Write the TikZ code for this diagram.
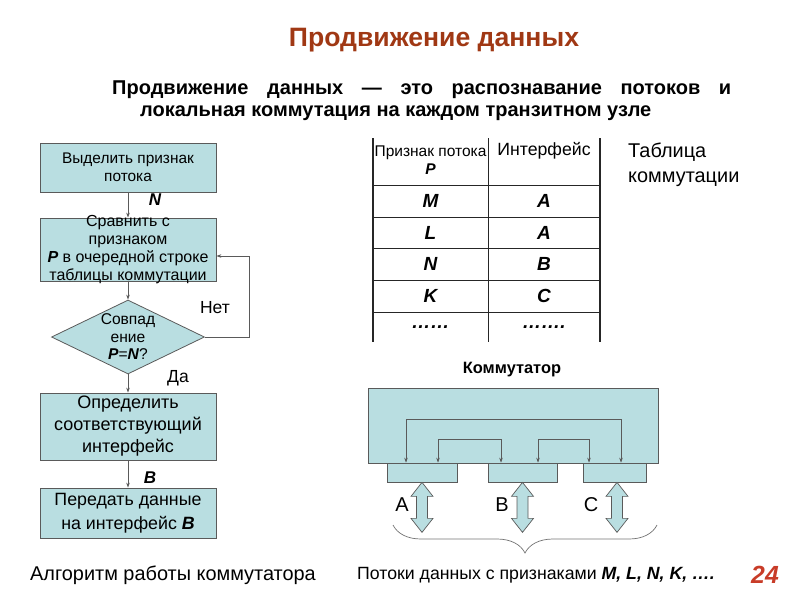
\documentclass[tikz,border=0pt]{standalone}
\usepackage{fontspec}
\setmainfont{Liberation Sans}
\usetikzlibrary{shapes.geometric,decorations.pathreplacing,arrows.meta,calc}
\definecolor{boxfill}{RGB}{185,222,225}
\definecolor{edgec}{RGB}{90,90,90}
\definecolor{titlec}{RGB}{160,56,20}
\definecolor{pagenum}{RGB}{200,60,40}
\begin{document}
\begin{tikzpicture}[x=1pt,y=-1pt,
  fbox/.style={draw=edgec,fill=boxfill,line width=0.8pt,minimum width=176pt,align=center,inner sep=0pt},
  conn/.style={draw=edgec,line width=0.6pt,-{Stealth[length=5pt,width=3.5pt]}},
  dconn/.style={draw=edgec,line width=0.6pt,{Stealth[length=5pt,width=3.5pt]}-{Stealth[length=5pt,width=3.5pt]}},
  lbl/.style={font=\bfseries\itshape\fontsize{17}{19}\selectfont},
  plain/.style={font=\fontsize{17.5}{19}\selectfont},
  tline/.style={draw=black!85,line width=0.6pt},
  tcell/.style={font=\bfseries\itshape\fontsize{19}{21}\selectfont},
  port/.style={draw=edgec,fill=boxfill,line width=0.7pt,inner sep=0pt},
  dblarr/.pic={\draw[draw=edgec,fill=boxfill,line width=0.7pt]
     (0,0) -- (11,14) -- (5.5,14) -- (5.5,36) -- (11,36) -- (0,50) -- (-11,36) -- (-5.5,36) -- (-5.5,14) -- (-11,14) -- cycle;}
]
\useasboundingbox (0,0) rectangle (800,600);

% title
\node[font=\bfseries\fontsize{26.6}{30}\selectfont, text=titlec] (title) at (434,40) {Продвижение данных};
\node[anchor=west, inner sep=0pt, font=\bfseries\fontsize{20}{24}\selectfont] (sub1) at (112,90)
  {\makebox[619pt][s]{Продвижение данных — это распознавание потоков и}};
\node[anchor=west, inner sep=0pt, font=\bfseries\fontsize{20}{24}\selectfont] (sub2) at (140,113)
  {локальная коммутация на каждом транзитном узле};

% flowchart
\node[fbox, minimum height=49pt, font=\fontsize{15.4}{18}\selectfont] (b1) at (128,167.5) {Выделить признак\\потока};
\node[fbox, minimum height=63pt, font=\fontsize{16}{18}\selectfont] (b2) at (128,249.5)
  {};
\node[align=center, inner sep=0pt, font=\fontsize{16}{18}\selectfont] (b2t) at (b2.center)
  {Сравнить с\\признаком\\\textbf{\textit{P}} в очередной строке\\таблицы коммутации};
\node[diamond, draw=edgec, fill=boxfill, line width=0.8pt, minimum width=153pt, minimum height=74pt, inner sep=0pt] (dia) at (128,337) {};
\node[align=center, inner sep=0pt, font=\fontsize{15.6}{17.5}\selectfont] (diat) at (dia.center) {Совпад\\ение\\\textbf{\textit{P}}=\textbf{\textit{N}}?};
\node[fbox, minimum height=67pt, font=\fontsize{18}{22}\selectfont] (b3) at (128,426.5) {Определить\\соответствующий\\интерфейс};
\node[fbox, minimum height=50pt, font=\fontsize{17.8}{24}\selectfont] (b4) at (128,513) {Передать данные\\на интерфейс \textbf{\textit{B}}};

\draw[conn] (b1.south) -- (b2.north);
\draw[conn] (b2.south) -- (dia.north);
\draw[conn] (dia.south) -- (b3.north);
\draw[conn] (b3.south) -- (b4.north);
\coordinate (lp) at (249,256);
\draw[conn] (dia.east) -| (lp) -- (b2.east |- lp);

\node[lbl] (lN) at (155,200) {N};
\node[plain] (lno) at (215,308) {Нет};
\node[plain] (lyes) at (178,378) {Да};
\node[lbl] (lB) at (150,478) {B};

\node[anchor=west, inner sep=0pt, font=\fontsize{19.9}{22}\selectfont] (cap1) at (30,575) {Алгоритм работы коммутатора};

% table
\draw[tline] (488,138) -- (488,342);
\draw[draw=black!85, line width=1.6pt] (373,138) -- (373,342);
\draw[draw=black!85, line width=1.6pt] (600,138) -- (600,342);
\foreach \yy in {185,217,248,280,312} { \draw[tline] (373,\yy) -- (600,\yy); }
\node[align=center, inner sep=0pt, font=\fontsize{15.5}{18}\selectfont] (h1) at (430.5,160) {Признак потока\\\textbf{\textit{P}}};
\node[inner sep=0pt, font=\fontsize{17.7}{20}\selectfont] (h2) at (544,151) {Интерфейс};
\node[tcell] (r1a) at (430.5,201) {M};  \node[tcell] (r1b) at (544,201) {A};
\node[tcell] (r2a) at (430.5,232.5) {L}; \node[tcell] (r2b) at (544,232.5) {A};
\node[tcell] (r3a) at (430.5,264) {N};  \node[tcell] (r3b) at (544,264) {B};
\node[tcell] (r4a) at (430.5,296) {K};  \node[tcell] (r4b) at (544,296) {C};
\node[tcell] (r5a) at (430.5,327) {……};  \node[tcell] (r5b) at (544,327) {…….};

\node[anchor=west, align=left, inner sep=0pt, font=\fontsize{19.9}{25}\selectfont] (tcap) at (628,165) {Таблица\\коммутации};

% switch
\node[font=\bfseries\fontsize{16.4}{18}\selectfont] (swt) at (512,370) {Коммутатор};
\node[draw=edgec, fill=boxfill, line width=0.7pt, inner sep=0pt, minimum width=290pt, minimum height=75pt] (sw) at (513,425.5) {};
\node[port, minimum width=70pt, minimum height=19pt] (pA) at (422,472.5) {};
\node[port, minimum width=69pt, minimum height=19pt] (pB) at (522.5,472.5) {};
\node[port, minimum width=63pt, minimum height=19pt] (pC) at (614.5,472.5) {};

\coordinate (o1) at (406,419); \coordinate (o2) at (621,419);
\coordinate (i1) at (438,439); \coordinate (i2) at (501,439);
\coordinate (i3) at (538,439); \coordinate (i4) at (589,439);
\draw[dconn] (o1 |- pA.north) -- (o1) -- (o2) -- (o2 |- pC.north);
\draw[dconn] (i1 |- pA.north) -- (i1) -- (i2) -- (i2 |- pB.north);
\draw[dconn] (i3 |- pB.north) -- (i3) -- (i4) -- (i4 |- pC.north);

\pic at (pA.south) {dblarr};
\pic at (pB.south) {dblarr};
\pic at ($(pC.south)+(2.5,0)$) {dblarr};

\node[font=\fontsize{20}{22}\selectfont] (la) at (402,505) {A};
\node[font=\fontsize{20}{22}\selectfont] (lb) at (502,505) {B};
\node[font=\fontsize{20}{22}\selectfont] (lc) at (591,505) {C};

\coordinate (br1) at (393,525); \coordinate (br2) at (657,525);
\draw[draw=black!55, line width=0.7pt, decorate, decoration={brace, mirror, amplitude=28pt}] (br1) -- (br2);

\node[anchor=west, inner sep=0pt, font=\fontsize{17.7}{20}\selectfont] (cap2) at (357,575) {Потоки данных с признаками \textbf{\textit{M, L, N, K, ….}}};
\node[inner sep=0pt, text=pagenum, font=\bfseries\itshape\fontsize{24.8}{28}\selectfont] (pnum) at (765,575) {24};
\end{tikzpicture}
\end{document}
